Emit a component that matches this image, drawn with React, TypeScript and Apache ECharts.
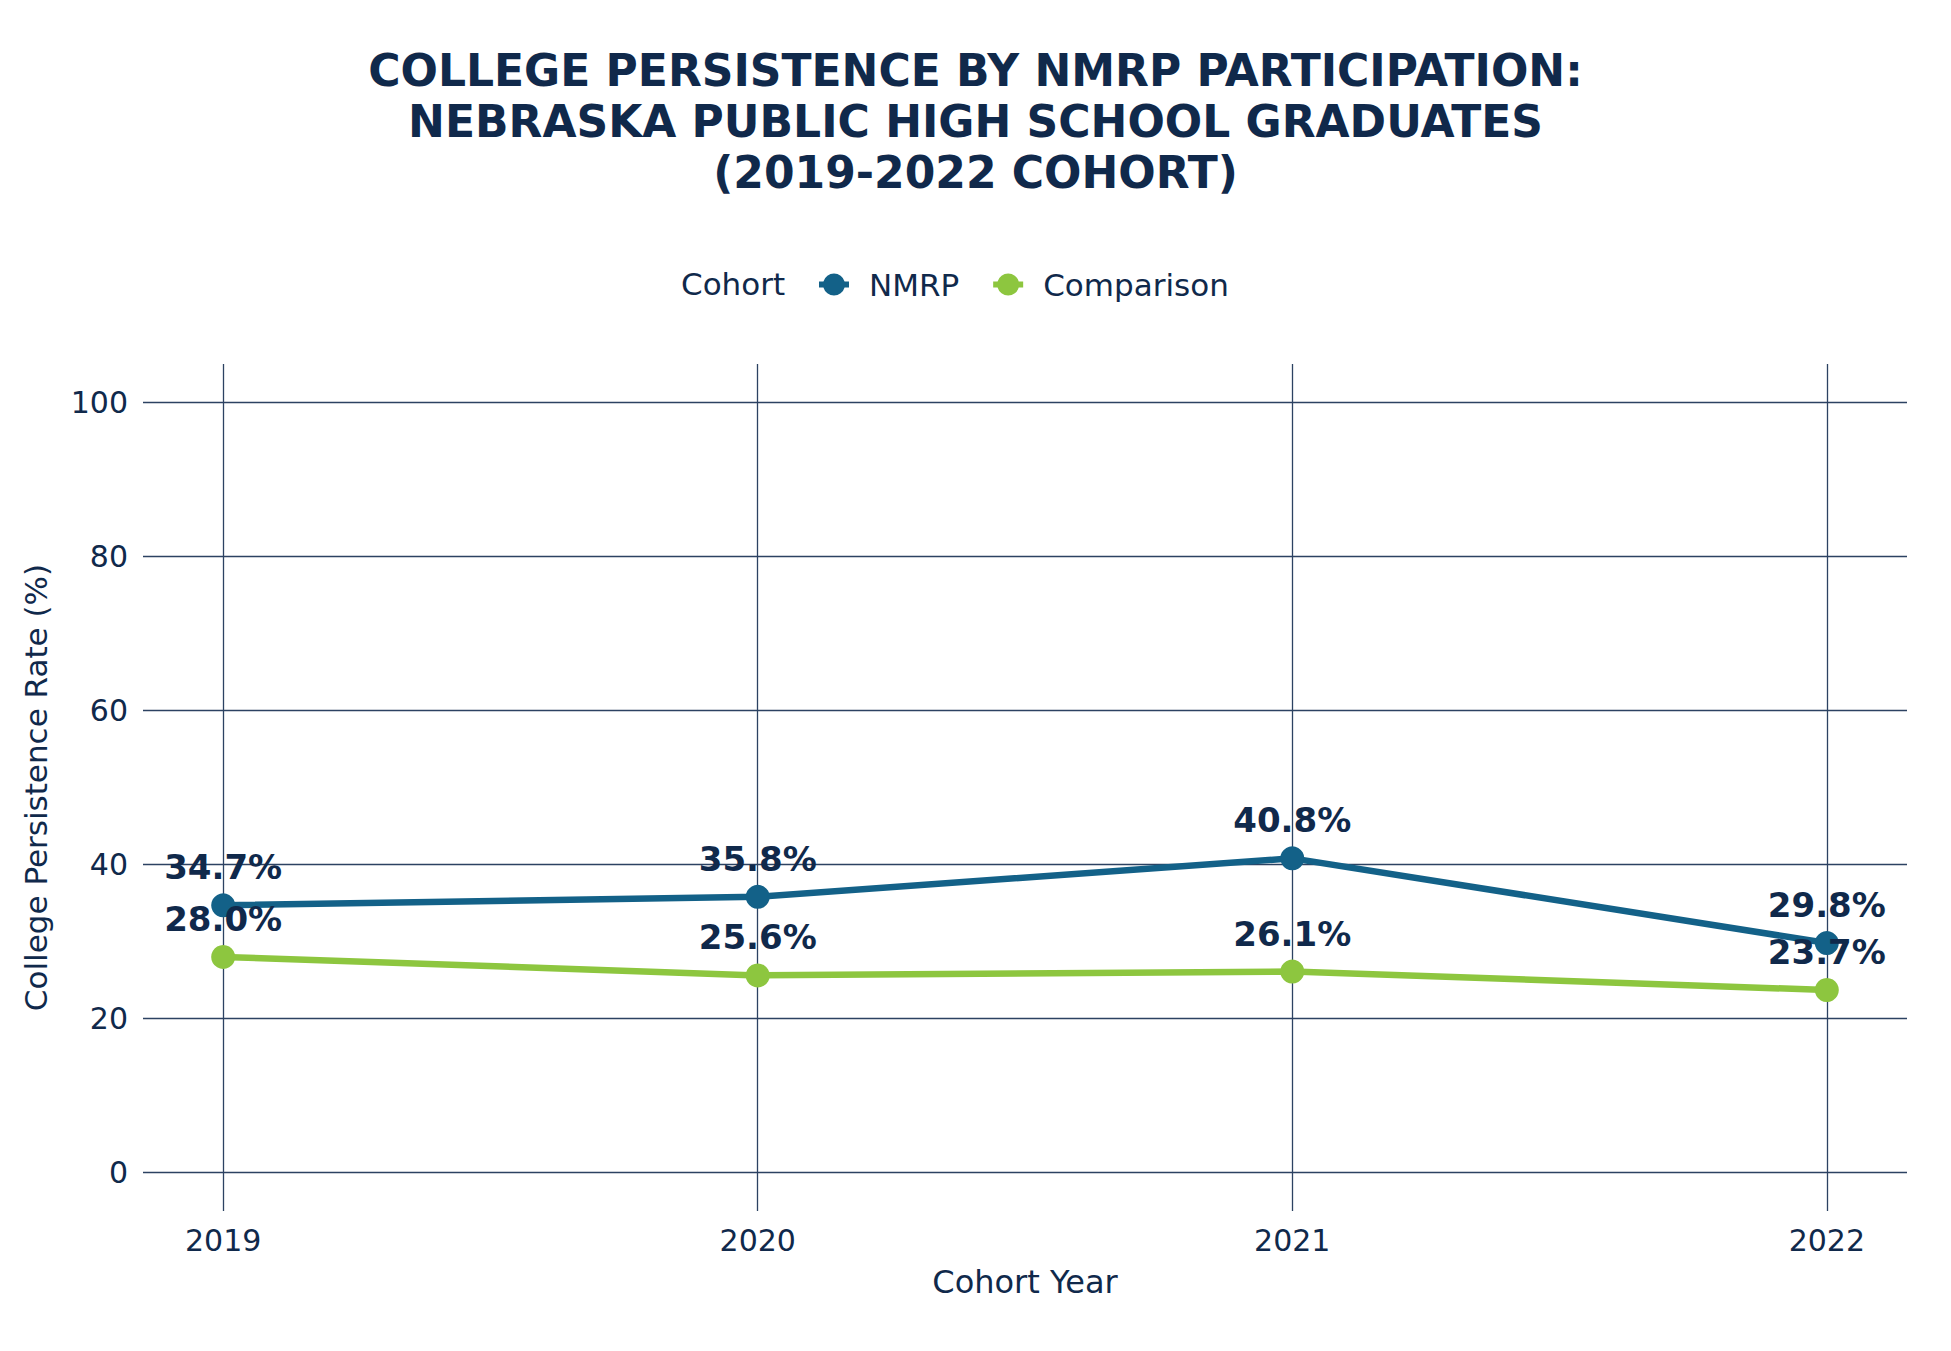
import React, { useEffect, useRef } from "react";
import * as echarts from "echarts";

const years = [2019, 2020, 2021, 2022];
const nmrpValues = [34.7, 35.8, 40.8, 29.8];
const comparisonValues = [28.0, 25.6, 26.1, 23.7];
const yTickValues = [0, 20, 40, 60, 80, 100];
const seriesNames = ["NMRP", "Comparison"];
const titleLines = [
  "COLLEGE PERSISTENCE BY NMRP PARTICIPATION:",
  "NEBRASKA PUBLIC HIGH SCHOOL GRADUATES",
  "(2019-2022 COHORT)",
];

const NAVY = "#10294b";
const FONT = "DejaVu Sans";
const GRID_COLOR = "#2c4262";
const LEGEND_ICON =
  "path://M0,8H4.42A11,11,0,0,1,25.58,8H30V14H25.58A11,11,0,0,1,4.42,14H0Z";

export default function App() {
  const ref = useRef<HTMLDivElement>(null);

  useEffect(() => {
    if (!ref.current) return;
    const chart = echarts.init(ref.current, null, { renderer: "svg" });

    const makeSeries = (name: string, values: number[], color: string) => ({
      name,
      type: "line",
      data: years.map((y, i) => [y, values[i]]),
      symbol: "circle",
      symbolSize: 24,
      showSymbol: true,
      lineStyle: { width: 6.5, color },
      itemStyle: { color },
      emphasis: { disabled: true },
      label: {
        show: true,
        position: "top",
        distance: 9,
        formatter: (p: any) => Number(p.value[1]).toFixed(1) + "%",
        fontFamily: FONT,
        fontWeight: "bold",
        fontSize: 34,
        color: NAVY,
      },
      z: 3,
    });

    chart.setOption({
      animation: false,
      backgroundColor: "#ffffff",
      title: {
        text: titleLines.join("\n"),
        left: "center",
        top: 45,
        padding: 0,
        textStyle: {
          fontFamily: FONT,
          fontWeight: "bold",
          fontSize: 44,
          lineHeight: 51,
          color: NAVY,
        },
      },
      graphic: [
        {
          type: "text",
          x: 681,
          y: 284,
          style: {
            text: "Cohort",
            fontFamily: FONT,
            fontSize: 31,
            fill: NAVY,
            verticalAlign: "middle",
          },
        },
      ],
      legend: {
        data: seriesNames.map((n) => ({ name: n, icon: LEGEND_ICON })),
        left: 814,
        top: 264,
        itemWidth: 30,
        itemHeight: 22,
        itemGap: 34,
        textStyle: {
          fontFamily: FONT,
          fontSize: 31,
          color: NAVY,
          padding: [0, 0, 0, 15],
        },
      },
      grid: { left: 143, right: 44, top: 364, bottom: 140, containLabel: false },
      xAxis: {
        type: "value",
        min: 2018.85,
        max: 2022.15,
        name: "Cohort Year",
        nameLocation: "middle",
        nameGap: 55,
        nameTextStyle: { fontFamily: FONT, fontSize: 32, color: NAVY },
        axisLine: { show: false },
        axisTick: { show: false, customValues: years },
        axisLabel: {
          customValues: years,
          formatter: (v: number) => String(v),
          margin: 14,
          fontFamily: FONT,
          fontSize: 30,
          color: NAVY,
        },
        splitLine: { show: true, lineStyle: { color: GRID_COLOR, width: 1.3 } },
      },
      yAxis: {
        type: "value",
        min: -5,
        max: 105,
        name: "College Persistence Rate (%)",
        nameLocation: "middle",
        nameGap: 92,
        nameTextStyle: { fontFamily: FONT, fontSize: 31, color: NAVY },
        axisLine: { show: false },
        axisTick: { show: false, customValues: yTickValues },
        axisLabel: {
          customValues: yTickValues,
          formatter: (v: number) => String(v),
          margin: 15,
          fontFamily: FONT,
          fontSize: 30,
          color: NAVY,
        },
        splitLine: { show: true, lineStyle: { color: GRID_COLOR, width: 1.3 } },
      },
      series: [
        makeSeries(seriesNames[0], nmrpValues, "#136188"),
        makeSeries(seriesNames[1], comparisonValues, "#8dc63f"),
      ],
    });

    return () => chart.dispose();
  }, []);

  return (
    <div
      ref={ref}
      style={{ position: "fixed", left: 0, top: 0, width: 1951, height: 1351, background: "#fff" }}
    />
  );
}
